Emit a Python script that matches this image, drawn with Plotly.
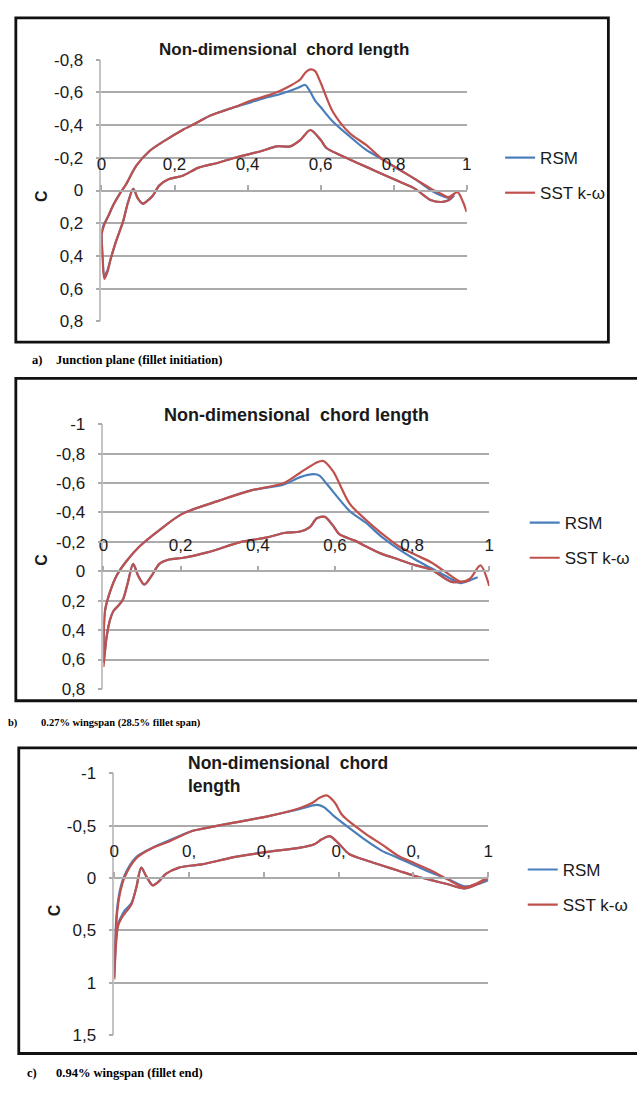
import plotly.graph_objects as go

# ---------------------------------------------------------------------------
# Pressure coefficient along the non-dimensional chord, three spanwise planes.
# Each series is stored as lower surface (LE -> TE) and upper surface (LE -> TE).
# ---------------------------------------------------------------------------

# a) Junction plane (fillet initiation)
A_RSM_X_UP = [0.000, 0.006, 0.020, 0.032, 0.050, 0.068, 0.095, 0.131, 0.177, 0.222, 0.257, 0.300,
              0.365, 0.410, 0.454, 0.490, 0.517, 0.540, 0.558, 0.570, 0.585, 0.600, 0.634, 0.680,
              0.724, 0.770, 0.814, 0.859, 0.903, 0.940, 0.960]
A_RSM_CP_UP = [0.25, 0.21, 0.15, 0.09, 0.02, -0.04, -0.15, -0.24, -0.31, -0.37, -0.41, -0.46,
               -0.51, -0.54, -0.57, -0.59, -0.61, -0.63, -0.645, -0.61, -0.55, -0.51, -0.42, -0.33,
               -0.25, -0.19, -0.13, -0.07, 0.00, 0.04, 0.05]
A_SST_X_UP = [0.000, 0.006, 0.020, 0.032, 0.050, 0.068, 0.095, 0.131, 0.177, 0.222, 0.257, 0.300,
              0.365, 0.410, 0.454, 0.490, 0.517, 0.545, 0.558, 0.572, 0.585, 0.600, 0.634, 0.680,
              0.724, 0.770, 0.814, 0.859, 0.903, 0.930, 0.950, 0.975, 0.990, 1.000]
A_SST_CP_UP = [0.27, 0.22, 0.15, 0.09, 0.02, -0.04, -0.15, -0.24, -0.31, -0.37, -0.41, -0.46,
               -0.51, -0.55, -0.58, -0.61, -0.64, -0.68, -0.72, -0.74, -0.73, -0.66, -0.48, -0.35,
               -0.28, -0.19, -0.13, -0.07, -0.01, 0.02, 0.04, 0.01, 0.07, 0.13]
A_X_LO = [0.000, 0.003, 0.008, 0.016, 0.025, 0.037, 0.048, 0.059, 0.073, 0.087, 0.100, 0.113,
          0.127, 0.141, 0.158, 0.185, 0.222, 0.266, 0.320, 0.365, 0.436, 0.480, 0.517, 0.545,
          0.572, 0.600, 0.616, 0.650, 0.680, 0.730, 0.770, 0.820, 0.859, 0.903, 0.930, 0.950, 0.966]
A_RSM_CP_LO = [0.25, 0.40, 0.52, 0.49, 0.42, 0.33, 0.26, 0.19, 0.07, -0.01, 0.05, 0.08,
               0.06, 0.03, -0.03, -0.07, -0.09, -0.14, -0.17, -0.20, -0.24, -0.27, -0.27, -0.31,
               -0.37, -0.31, -0.26, -0.22, -0.19, -0.14, -0.10, -0.05, -0.01, 0.06, 0.07, 0.06, 0.03]
A_SST_CP_LO = [0.27, 0.42, 0.54, 0.50, 0.42, 0.33, 0.26, 0.19, 0.07, -0.01, 0.05, 0.08,
               0.06, 0.03, -0.03, -0.07, -0.09, -0.14, -0.17, -0.20, -0.24, -0.27, -0.27, -0.31,
               -0.37, -0.31, -0.26, -0.22, -0.19, -0.14, -0.10, -0.05, -0.01, 0.06, 0.07, 0.06, 0.02]

# b) 0.27% wingspan (28.5% fillet span)
B_RSM_X_UP = [0.000, 0.004, 0.017, 0.034, 0.060, 0.094, 0.145, 0.204, 0.300, 0.383, 0.468, 0.510,
              0.545, 0.560, 0.580, 0.638, 0.680, 0.723, 0.765, 0.808, 0.850, 0.893, 0.926, 0.950, 0.970]
B_RSM_CP_UP = [0.62, 0.27, 0.14, 0.03, -0.07, -0.17, -0.28, -0.39, -0.48, -0.55, -0.59, -0.64,
               -0.66, -0.65, -0.59, -0.41, -0.33, -0.23, -0.15, -0.08, -0.02, 0.04, 0.08, 0.06, 0.04]
B_SST_X_UP = [0.000, 0.004, 0.017, 0.034, 0.060, 0.094, 0.145, 0.204, 0.300, 0.383, 0.468, 0.510,
              0.553, 0.570, 0.595, 0.638, 0.680, 0.720, 0.765, 0.810, 0.850, 0.900, 0.926, 0.950,
              0.977, 1.000]
B_SST_CP_UP = [0.65, 0.27, 0.14, 0.03, -0.07, -0.17, -0.28, -0.39, -0.48, -0.55, -0.60, -0.67,
               -0.74, -0.75, -0.68, -0.46, -0.35, -0.26, -0.17, -0.11, -0.06, 0.03, 0.07, 0.05,
               -0.04, 0.10]
B_X_LO = [0.000, 0.004, 0.008, 0.017, 0.026, 0.040, 0.051, 0.063, 0.077, 0.090, 0.106, 0.125,
          0.145, 0.170, 0.204, 0.272, 0.357, 0.425, 0.468, 0.510, 0.535, 0.553, 0.574, 0.595,
          0.612, 0.650, 0.680, 0.720, 0.765, 0.810, 0.850, 0.900, 0.935, 0.950]
B_RSM_CP_LO = [0.62, 0.54, 0.45, 0.33, 0.27, 0.23, 0.19, 0.08, -0.05, 0.03, 0.09, 0.03,
               -0.05, -0.08, -0.09, -0.13, -0.20, -0.23, -0.26, -0.27, -0.30, -0.36, -0.37, -0.31,
               -0.25, -0.21, -0.17, -0.12, -0.08, -0.04, -0.01, 0.07, 0.07, 0.06]
B_SST_CP_LO = [0.65, 0.55, 0.45, 0.33, 0.27, 0.23, 0.19, 0.08, -0.05, 0.03, 0.09, 0.03,
               -0.05, -0.08, -0.09, -0.13, -0.20, -0.23, -0.26, -0.27, -0.30, -0.36, -0.37, -0.31,
               -0.25, -0.21, -0.17, -0.12, -0.08, -0.04, -0.01, 0.07, 0.07, 0.06]

# c) 0.94% wingspan (fillet end)
C_RSM_X_UP = [0.000, 0.006, 0.015, 0.028, 0.059, 0.103, 0.147, 0.208, 0.234, 0.320, 0.410, 0.497,
              0.541, 0.560, 0.585, 0.628, 0.673, 0.716, 0.760, 0.804, 0.848, 0.892, 0.936, 0.970, 1.000]
C_RSM_CP_UP = [0.95, 0.36, 0.12, -0.03, -0.20, -0.29, -0.36, -0.45, -0.47, -0.53, -0.59, -0.66,
               -0.70, -0.68, -0.60, -0.48, -0.36, -0.26, -0.19, -0.12, -0.05, 0.01, 0.08, 0.06, 0.02]
C_SST_X_UP = [0.000, 0.006, 0.015, 0.028, 0.059, 0.103, 0.147, 0.208, 0.234, 0.320, 0.410, 0.497,
              0.530, 0.550, 0.568, 0.590, 0.610, 0.673, 0.716, 0.760, 0.804, 0.848, 0.900, 0.936,
              0.970, 1.000]
C_SST_CP_UP = [0.97, 0.40, 0.15, -0.01, -0.19, -0.29, -0.35, -0.45, -0.47, -0.53, -0.59, -0.67,
               -0.72, -0.77, -0.79, -0.72, -0.60, -0.42, -0.32, -0.21, -0.14, -0.07, 0.03, 0.09,
               0.05, -0.01]
C_X_LO = [0.000, 0.005, 0.010, 0.020, 0.028, 0.046, 0.059, 0.072, 0.085, 0.103, 0.120, 0.138,
          0.173, 0.208, 0.234, 0.320, 0.410, 0.497, 0.533, 0.555, 0.576, 0.600, 0.628, 0.673,
          0.716, 0.760, 0.804, 0.848, 0.892, 0.936, 0.970, 1.000]
C_RSM_CP_LO = [0.95, 0.58, 0.44, 0.36, 0.31, 0.24, 0.09, -0.10, -0.02, 0.07, 0.03, -0.04,
               -0.10, -0.12, -0.13, -0.20, -0.25, -0.29, -0.32, -0.37, -0.40, -0.33, -0.23, -0.17,
               -0.12, -0.07, -0.02, 0.02, 0.06, 0.10, 0.06, 0.00]
C_SST_CP_LO = [0.97, 0.62, 0.46, 0.38, 0.34, 0.25, 0.09, -0.10, -0.02, 0.07, 0.03, -0.04,
               -0.10, -0.12, -0.13, -0.20, -0.25, -0.29, -0.32, -0.37, -0.40, -0.33, -0.23, -0.17,
               -0.12, -0.07, -0.02, 0.02, 0.06, 0.10, 0.06, 0.00]

# Tick labels (decimal comma)
X_TICKS = [0, 0.2, 0.4, 0.6, 0.8, 1]
X_LABELS_AB = ["0", "0,2", "0,4", "0,6", "0,8", "1"]
X_LABELS_C = ["0", "0,", "0,", "0,", "0,", "1"]
Y_TICKS_A = [-0.8, -0.6, -0.4, -0.2, 0, 0.2, 0.4, 0.6, 0.8]
Y_LABELS_A = ["-0,8", "-0,6", "-0,4", "-0,2", "0", "0,2", "0,4", "0,6", "0,8"]
Y_TICKS_B = [-1, -0.8, -0.6, -0.4, -0.2, 0, 0.2, 0.4, 0.6, 0.8]
Y_LABELS_B = ["-1", "-0,8", "-0,6", "-0,4", "-0,2", "0", "0,2", "0,4", "0,6", "0,8"]
Y_TICKS_C = [-1, -0.5, 0, 0.5, 1, 1.5]
Y_LABELS_C = ["-1", "-0,5", "0", "0,5", "1", "1,5"]

SERIES = ["RSM", "SST k-ω"]
TITLE = "Non-dimensional  chord length"
CAPTIONS = [("a)", "Junction plane (fillet initiation)"),
            ("b)", "0.27% wingspan (28.5% fillet span)"),
            ("c)", "0.94% wingspan (fillet end)")]

# ---------------------------------------------------------------------------
W, H = 637, 1093
FONT = "Liberation Sans, Arial, sans-serif"
SERIF = "Liberation Serif, Times New Roman, serif"
BLUE = "#4a7ebb"
RED = "#c0504d"
GRID = "#ababab"
AXIS = "#c4c4c4"


def fx(px):
    return px / W


def fy(py):
    return 1 - py / H


def loop(x_lo, cp_lo, x_up, cp_up):
    """Join lower surface (TE -> LE) and upper surface (LE -> TE) into one line."""
    return list(reversed(x_lo)) + list(x_up), list(reversed(cp_lo)) + list(cp_up)


panels = [
    dict(box=(11, 9, 613, 339), plot=(98, 469, 51.5, 318), yr=(0.8, -0.8),
         yt=Y_TICKS_A, yl=Y_LABELS_A, xl=X_LABELS_AB,
         rsm=loop(A_X_LO, A_RSM_CP_LO, A_RSM_X_UP, A_RSM_CP_UP),
         sst=loop(A_X_LO, A_SST_CP_LO, A_SST_X_UP, A_SST_CP_UP),
         leg=(503, 169.5), ctitle=(37, 190)),
    dict(box=(11, 376, 645, 704), plot=(100, 492, 422.5, 692), yr=(0.8, -1.0),
         yt=Y_TICKS_B, yl=Y_LABELS_B, xl=X_LABELS_AB,
         rsm=loop(B_X_LO, B_RSM_CP_LO, B_RSM_X_UP, B_RSM_CP_UP),
         sst=loop(B_X_LO, B_SST_CP_LO, B_SST_X_UP, B_SST_CP_UP),
         leg=(528, 541), ctitle=(37, 560)),
    dict(box=(14, 752, 645, 1063), plot=(111, 491, 778, 1044), yr=(1.5, -1.0),
         yt=Y_TICKS_C, yl=Y_LABELS_C, xl=X_LABELS_C,
         rsm=loop(C_X_LO, C_RSM_CP_LO, C_RSM_X_UP, C_RSM_CP_UP),
         sst=loop(C_X_LO, C_SST_CP_LO, C_SST_X_UP, C_SST_CP_UP),
         leg=(526, 894), ctitle=(50, 917)),
]

fig = go.Figure()
layout = dict(
    width=W, height=H, margin=dict(l=0, r=0, t=0, b=0),
    paper_bgcolor="white", plot_bgcolor="white",
    font=dict(family=FONT, color="#1a1a1a"),
    annotations=[], shapes=[],
)

for i, p in enumerate(panels):
    n = "" if i == 0 else str(i + 1)
    left, right, top, bottom = p["plot"]
    ybot, ytop = p["yr"]
    ydom = [fy(bottom), fy(top)]
    # the chord axis crosses at Cp = 0
    xpos = ydom[0] + (ybot - 0) / (ybot - ytop) * (ydom[1] - ydom[0])
    legname = "legend" + n

    for name, (xs, ys), color in ((SERIES[0], p["rsm"], BLUE), (SERIES[1], p["sst"], RED)):
        fig.add_trace(go.Scatter(
            x=xs, y=ys, mode="lines", name=name,
            line=dict(color=color, width=2.2, shape="spline", smoothing=0.8),
            xaxis="x" + n, yaxis="y" + n, legend=legname,
            legendgroup=f"{i}-{name}",
        ))

    layout["xaxis" + n] = dict(
        domain=[fx(left), fx(right)], range=[0, 1], anchor="free", position=xpos,
        side="top", tickvals=X_TICKS, ticktext=p["xl"], ticks="outside", ticklen=5,
        tickcolor=GRID, tickwidth=1.5, showgrid=False, zeroline=False,
        showline=True, linecolor=GRID, linewidth=1.5, ticklabelstandoff=8,
        tickfont=dict(size=17, family=FONT, color="#1a1a1a"),
    )
    layout["yaxis" + n] = dict(
        domain=ydom, range=[ybot, ytop], anchor="x" + n,
        tickvals=p["yt"], ticktext=p["yl"], ticks="outside", ticklen=4,
        tickcolor=GRID, tickwidth=1.5, showgrid=True, gridcolor=GRID, gridwidth=1.5,
        zeroline=False, showline=True, linecolor=AXIS, linewidth=1.5,
        ticklabelstandoff=9, tickfont=dict(size=17, family=FONT, color="#1a1a1a"),
    )
    layout[legname] = dict(
        x=fx(p["leg"][0]), y=fy(p["leg"][1]), xanchor="left", yanchor="middle",
        bgcolor="rgba(0,0,0,0)", traceorder="grouped", tracegroupgap=10,
        font=dict(size=17, family=FONT, color="#1a1a1a"), itemwidth=30,
    )

    # panel frame
    bx0, by0, bx1, by1 = p["box"]
    layout["shapes"].append(dict(
        type="rect", xref="paper", yref="paper",
        x0=fx(bx0), x1=fx(bx1), y0=fy(by1), y1=fy(by0),
        line=dict(color="#111111", width=2.8), layer="above",
    ))
    # vertical axis title
    layout["annotations"].append(dict(
        text="<b>C</b>", x=fx(p["ctitle"][0]), y=fy(p["ctitle"][1]),
        xref="paper", yref="paper", showarrow=False, textangle=-90,
        xanchor="center", yanchor="middle",
        font=dict(size=16, family=FONT, color="#1a1a1a"),
    ))

# chart titles
layout["annotations"] += [
    dict(text="<b>" + TITLE + "</b>", x=fx(283.5), y=fy(41), xref="paper", yref="paper",
         showarrow=False, xanchor="center", yanchor="middle",
         font=dict(size=17, family=FONT, color="#1a1a1a")),
    dict(text="<b>" + TITLE + "</b>", x=fx(296), y=fy(413), xref="paper", yref="paper",
         showarrow=False, xanchor="center", yanchor="middle",
         font=dict(size=18, family=FONT, color="#1a1a1a")),
    dict(text="<b>Non-dimensional  chord<br>length</b>", x=fx(184), y=fy(755),
         xref="paper", yref="paper", showarrow=False, xanchor="left", yanchor="top",
         align="left", font=dict(size=17.5, family=FONT, color="#1a1a1a")),
]

# figure captions
cap_pos = [((25, 50), 357, 12.5), ((1, 35), 727, 10.5), ((20, 50), 1083, 12.5)]
for (label, text), ((lx, tx), cy, size) in zip(CAPTIONS, cap_pos):
    for s, px in ((label, lx), (text, tx)):
        layout["annotations"].append(dict(
            text="<b>" + s + "</b>", x=fx(px), y=fy(cy), xref="paper", yref="paper",
            showarrow=False, xanchor="left", yanchor="middle",
            font=dict(size=size, family=SERIF, color="#000000"),
        ))

fig.update_layout(**layout)
fig.write_html("out.html")
